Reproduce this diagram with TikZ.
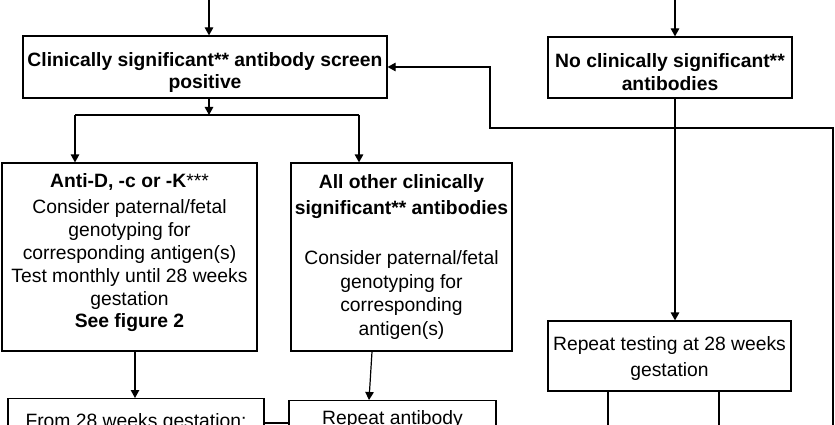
\documentclass[tikz,border=0pt]{standalone}
\usepackage{fontspec}
\setmainfont{Liberation Sans}
\usetikzlibrary{arrows.meta}
\begin{document}
\begin{tikzpicture}[x=1pt,y=-1pt,
  box/.style={draw, line width=1.2pt, align=center, inner sep=0pt, font=\fontsize{19.3}{22.8}\selectfont},
  conn/.style={line width=1.2pt},
  arr/.style={conn, -{Triangle[length=8pt,width=8.5pt]}}]
\useasboundingbox (0,0) rectangle (835,425);
\clip (0,0) rectangle (835,425);
% boxes
\node[box, minimum width=364pt, minimum height=62pt, text height=48pt] (A) at (205,67)
  {\textbf{Clinically significant** antibody screen}\\\textbf{positive}};
\node[box, minimum width=244pt, minimum height=61pt, text height=46pt] (B) at (670,67.5)
  {\textbf{No clinically significant**}\\\textbf{antibodies}};
\node[box, minimum width=255pt, minimum height=188pt, text depth=13pt] (C) at (129.5,257)
  {\textbf{Anti-D, -c or -K}***\\[4pt]Consider paternal/fetal\\genotyping for\\corresponding antigen(s)\\Test monthly until 28 weeks\\gestation\\\textbf{See figure 2}};
\node[box, minimum width=221pt, minimum height=188pt, font=\fontsize{19.3}{23.5}\selectfont] (D) at (401.5,257)
  {\textbf{All other clinically}\\[2.5pt]\textbf{significant** antibodies}\\[26.5pt]Consider paternal/fetal\\genotyping for\\corresponding\\antigen(s)};
\node[box, minimum width=243pt, minimum height=70pt, text height=45pt] (R) at (669.5,356)
  {Repeat testing at 28 weeks\\[3pt]gestation};
\node[box, anchor=north, minimum width=256pt, text height=29pt, text depth=40pt] (E) at (136,398)
  {From 28 weeks gestation:};
\node[box, anchor=north, minimum width=207pt, text height=24pt, text depth=40pt] (F) at (392.5,400)
  {Repeat antibody};
% coordinates
\coordinate (topA) at (209,0);
\coordinate (topB) at (675,0);
\coordinate (jA) at (209,115);
\coordinate (bl) at (75,115);
\coordinate (br) at (359,115);
\coordinate (lp2) at (490,128);
\coordinate (lp3) at (833,128);
\coordinate (lp4) at (833,440);
\coordinate (r1) at (608,440);
\coordinate (r2) at (719,440);
\coordinate (xc) at (135,0);
\coordinate (yb) at (0,423);
% connectors
\draw[arr] (topA) -- (topA |- A.north);
\draw[arr] (topB) -- (topB |- B.north);
\draw[arr] (A.south -| jA) -- (jA);
\draw[conn] (bl) -- (br);
\draw[arr] (bl) -- (bl |- C.north);
\draw[arr] (br) -- (br |- D.north);
\draw[arr] (lp4) -- (lp3) -- (lp2) -- (lp2 |- A.east) -- (A.east);
\draw[arr] (B.south -| topB) -- (R.north -| topB);
\draw[conn] (R.south -| r1) -- (r1);
\draw[conn] (R.south -| r2) -- (r2);
\draw[arr] (C.south -| xc) -- (E.north -| xc);
\draw[arr] ([xshift=-29.5pt]D.south) -- ([xshift=-23.5pt]F.north);
\draw[conn] (E.east |- yb) -- (F.west |- yb);
\end{tikzpicture}
\end{document}
